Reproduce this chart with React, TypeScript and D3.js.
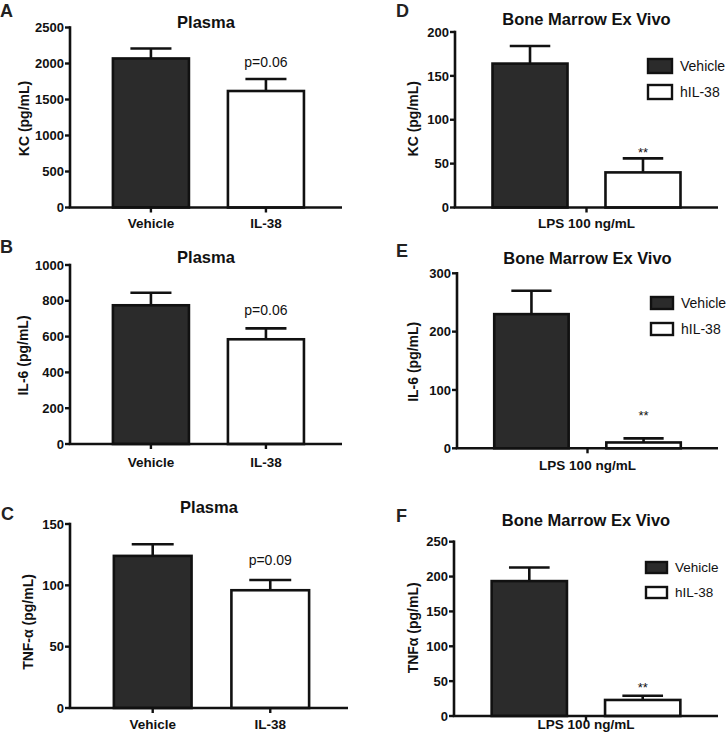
import React from 'react';
import * as d3 from 'd3';

// ---------- data ----------
const plasmaGroups = ['Vehicle', 'IL-38'];
const exVivoCategory = ['LPS 100 ng/mL'];
const exVivoSeries = ['Vehicle', 'hIL-38'];

const kcPlasmaMeans = [2070, 1618];
const kcPlasmaErrors = [138, 167];
const kcPlasmaNotes = ['', 'p=0.06'];
const kcPlasmaTicks = [0, 500, 1000, 1500, 2000, 2500];

const il6PlasmaMeans = [775, 585];
const il6PlasmaErrors = [70, 61];
const il6PlasmaNotes = ['', 'p=0.06'];
const il6PlasmaTicks = [0, 200, 400, 600, 800, 1000];

const tnfPlasmaMeans = [124, 96];
const tnfPlasmaErrors = [9.5, 8.3];
const tnfPlasmaNotes = ['', 'p=0.09'];
const tnfPlasmaTicks = [0, 50, 100, 150];

const kcMarrowMeans = [164, 40];
const kcMarrowErrors = [20, 16];
const kcMarrowNotes = ['', '**'];
const kcMarrowTicks = [0, 50, 100, 150, 200];

const il6MarrowMeans = [230, 10];
const il6MarrowErrors = [40, 7];
const il6MarrowNotes = ['', '**'];
const il6MarrowTicks = [0, 100, 200, 300];

const tnfMarrowMeans = [193.5, 23];
const tnfMarrowErrors = [19.5, 6];
const tnfMarrowNotes = ['', '**'];
const tnfMarrowTicks = [0, 50, 100, 150, 200, 250];

// ---------- styles ----------
const FONT = '"Liberation Sans", Arial, Helvetica, sans-serif';
const DARK = '#2b2b2b';
const INK = '#111';
const fills = [DARK, '#ffffff'];

type Legend = { x: number; y: number; w: number; h: number; gap: number; fs: number };
type Layout = {
  letter: string; lx: number; ly: number;
  title: string; titleY: number;
  yLabel: string; yLabelX: number; yLabelDy: number;
  axisX: number; xEnd: number; yTop: number; y0: number;
  xLabelGap: number; annGap: number; annSize: number; annWeight: string;
  legend?: Legend;
};

type PanelProps = {
  layout: Layout;
  categories: string[];
  series?: string[];
  means: number[];
  errors: number[];
  notes: string[];
  ticks: number[];
};

function BarPanel({ layout: L, categories, series, means, errors, notes, ticks }: PanelProps) {
  const y = d3.scaleLinear().domain([0, d3.max(ticks) as number]).range([L.y0, L.yTop]);
  const bars: { key: string; x: number; w: number; i: number }[] = [];
  const xTicks: { key: string; cx: number }[] = [];
  if (series) {
    const outer = d3.scaleBand().domain(categories).range([L.axisX, L.xEnd]).padding(0);
    const inner = d3.scaleBand().domain(series).range([0, outer.bandwidth()])
      .paddingInner(0.336).paddingOuter(0.332);
    categories.forEach((c) => {
      const ox = outer(c) as number;
      xTicks.push({ key: c, cx: ox + outer.bandwidth() / 2 });
      series.forEach((s, i) => bars.push({ key: s, x: ox + (inner(s) as number), w: inner.bandwidth(), i }));
    });
  } else {
    const band = d3.scaleBand().domain(categories).range([L.axisX, L.xEnd])
      .paddingInner(0.339).paddingOuter(0.352).align(0.53);
    categories.forEach((c, i) => {
      const bx = band(c) as number;
      bars.push({ key: c, x: bx, w: band.bandwidth(), i });
      xTicks.push({ key: c, cx: bx + band.bandwidth() / 2 });
    });
  }
  const midX = (L.axisX + L.xEnd) / 2;
  const midY = (L.yTop + L.y0) / 2 + L.yLabelDy;
  return (
    <g fontFamily={FONT}>
      <text x={L.lx} y={L.ly} fontSize={18} fontWeight="bold" fill="#222">{L.letter}</text>
      <text x={midX} y={L.titleY} fontSize={16.5} fontWeight="bold" textAnchor="middle" fill="#111">{L.title}</text>
      <text transform={`translate(${L.yLabelX},${midY}) rotate(-90)`} fontSize={14} fontWeight="bold" textAnchor="middle" fill="#111">{L.yLabel}</text>
      {/* bars */}
      {bars.map((b) => {
        const top = y(means[b.i]);
        const et = y(means[b.i] + errors[b.i]);
        const cx = b.x + b.w / 2;
        const cap = b.w * 0.27;
        return (
          <g key={b.key}>
            <line x1={cx} x2={cx} y1={top} y2={et} stroke={INK} strokeWidth={2.6} />
            <line x1={cx - cap} x2={cx + cap} y1={et} y2={et} stroke={INK} strokeWidth={2.6} />
            <rect x={b.x} y={top} width={b.w} height={L.y0 - top} fill={fills[b.i]} stroke={INK} strokeWidth={2.6} />
            {notes[b.i] ? (
              <text x={cx} y={et - L.annGap} fontSize={L.annSize} fontWeight={L.annWeight} textAnchor="middle" fill="#111">{notes[b.i]}</text>
            ) : null}
          </g>
        );
      })}
      {/* y axis */}
      <line x1={L.axisX} x2={L.axisX} y1={L.yTop - 1.3} y2={L.y0} stroke={INK} strokeWidth={2.6} />
      {ticks.map((t) => (
        <g key={t}>
          <line x1={L.axisX - 5} x2={L.axisX} y1={y(t)} y2={y(t)} stroke={INK} strokeWidth={2.4} />
          <text x={L.axisX - 6} y={y(t)} dy="0.36em" fontSize={13} fontWeight="bold" textAnchor="end" fill="#111">{t}</text>
        </g>
      ))}
      {/* x axis */}
      <line x1={L.axisX - 1.3} x2={L.xEnd} y1={L.y0} y2={L.y0} stroke={INK} strokeWidth={2.6} />
      {xTicks.map((t) => (
        <g key={t.key}>
          <line x1={t.cx} x2={t.cx} y1={L.y0} y2={L.y0 + 5} stroke={INK} strokeWidth={2.4} />
          <text x={t.cx} y={L.y0 + L.xLabelGap} fontSize={13.5} fontWeight="bold" textAnchor="middle" fill="#111">{t.key}</text>
        </g>
      ))}
      {/* legend */}
      {L.legend && series
        ? series.map((s, i) => {
            const lg = L.legend as Legend;
            const ry = lg.y + i * lg.gap;
            return (
              <g key={s}>
                <rect x={lg.x} y={ry} width={lg.w} height={lg.h} fill={fills[i]} stroke={INK} strokeWidth={2.4} />
                <text x={lg.x + lg.w + 8} y={ry + lg.h / 2} dy="0.36em" fontSize={lg.fs} fill="#111">{s}</text>
              </g>
            );
          })
        : null}
    </g>
  );
}

const layoutA: Layout = { letter: 'A', lx: 0, ly: 16.5, title: 'Plasma', titleY: 28, yLabel: 'KC (pg/mL)', yLabelX: 28.5, yLabelDy: 1,
  axisX: 70, xEnd: 342, yTop: 27.5, y0: 207.5, xLabelGap: 20, annGap: 12, annSize: 14, annWeight: 'normal' };
const layoutB: Layout = { letter: 'B', lx: 0, ly: 253, title: 'Plasma', titleY: 263, yLabel: 'IL-6 (pg/mL)', yLabelX: 28, yLabelDy: 1,
  axisX: 70, xEnd: 342, yTop: 265, y0: 444, xLabelGap: 22.5, annGap: 13, annSize: 14, annWeight: 'normal' };
const layoutC: Layout = { letter: 'C', lx: 1, ly: 520, title: 'Plasma', titleY: 513, yLabel: 'TNF-α (pg/mL)', yLabelX: 33, yLabelDy: 6,
  axisX: 70, xEnd: 348, yTop: 524, y0: 708, xLabelGap: 21, annGap: 15, annSize: 14, annWeight: 'normal' };
const layoutD: Layout = { letter: 'D', lx: 396, ly: 16.5, title: 'Bone Marrow Ex Vivo', titleY: 25, yLabel: 'KC (pg/mL)', yLabelX: 418, yLabelDy: -1,
  axisX: 455, xEnd: 718, yTop: 32, y0: 207.5, xLabelGap: 20.5, annGap: 1, annSize: 13, annWeight: 'normal',
  legend: { x: 648, y: 59, w: 24, h: 14, gap: 26, fs: 14 } };
const layoutE: Layout = { letter: 'E', lx: 396, ly: 257, title: 'Bone Marrow Ex Vivo', titleY: 264, yLabel: 'IL-6 (pg/mL)', yLabelX: 418, yLabelDy: 1,
  axisX: 457, xEnd: 718, yTop: 273.3, y0: 448.3, xLabelGap: 21.5, annGap: 18, annSize: 13, annWeight: 'normal',
  legend: { x: 651, y: 297, w: 22, h: 12, gap: 26, fs: 14 } };
const layoutF: Layout = { letter: 'F', lx: 396, ly: 522, title: 'Bone Marrow Ex Vivo', titleY: 526, yLabel: 'TNFα (pg/mL)', yLabelX: 418, yLabelDy: -1,
  axisX: 454, xEnd: 718, yTop: 541.7, y0: 716, xLabelGap: 12.5, annGap: 4, annSize: 13, annWeight: 'normal',
  legend: { x: 646, y: 562, w: 21, h: 11, gap: 25, fs: 13.5 } };

export default function App() {
  return (
    <svg width={726} height={738} viewBox="0 0 726 738"
      style={{ position: 'absolute', left: 0, top: 0, background: '#fff' }}>
      <rect width={726} height={738} fill="#fff" />
      <BarPanel layout={layoutA} categories={plasmaGroups} means={kcPlasmaMeans} errors={kcPlasmaErrors} notes={kcPlasmaNotes} ticks={kcPlasmaTicks} />
      <BarPanel layout={layoutB} categories={plasmaGroups} means={il6PlasmaMeans} errors={il6PlasmaErrors} notes={il6PlasmaNotes} ticks={il6PlasmaTicks} />
      <BarPanel layout={layoutC} categories={plasmaGroups} means={tnfPlasmaMeans} errors={tnfPlasmaErrors} notes={tnfPlasmaNotes} ticks={tnfPlasmaTicks} />
      <BarPanel layout={layoutD} categories={exVivoCategory} series={exVivoSeries} means={kcMarrowMeans} errors={kcMarrowErrors} notes={kcMarrowNotes} ticks={kcMarrowTicks} />
      <BarPanel layout={layoutE} categories={exVivoCategory} series={exVivoSeries} means={il6MarrowMeans} errors={il6MarrowErrors} notes={il6MarrowNotes} ticks={il6MarrowTicks} />
      <BarPanel layout={layoutF} categories={exVivoCategory} series={exVivoSeries} means={tnfMarrowMeans} errors={tnfMarrowErrors} notes={tnfMarrowNotes} ticks={tnfMarrowTicks} />
    </svg>
  );
}
